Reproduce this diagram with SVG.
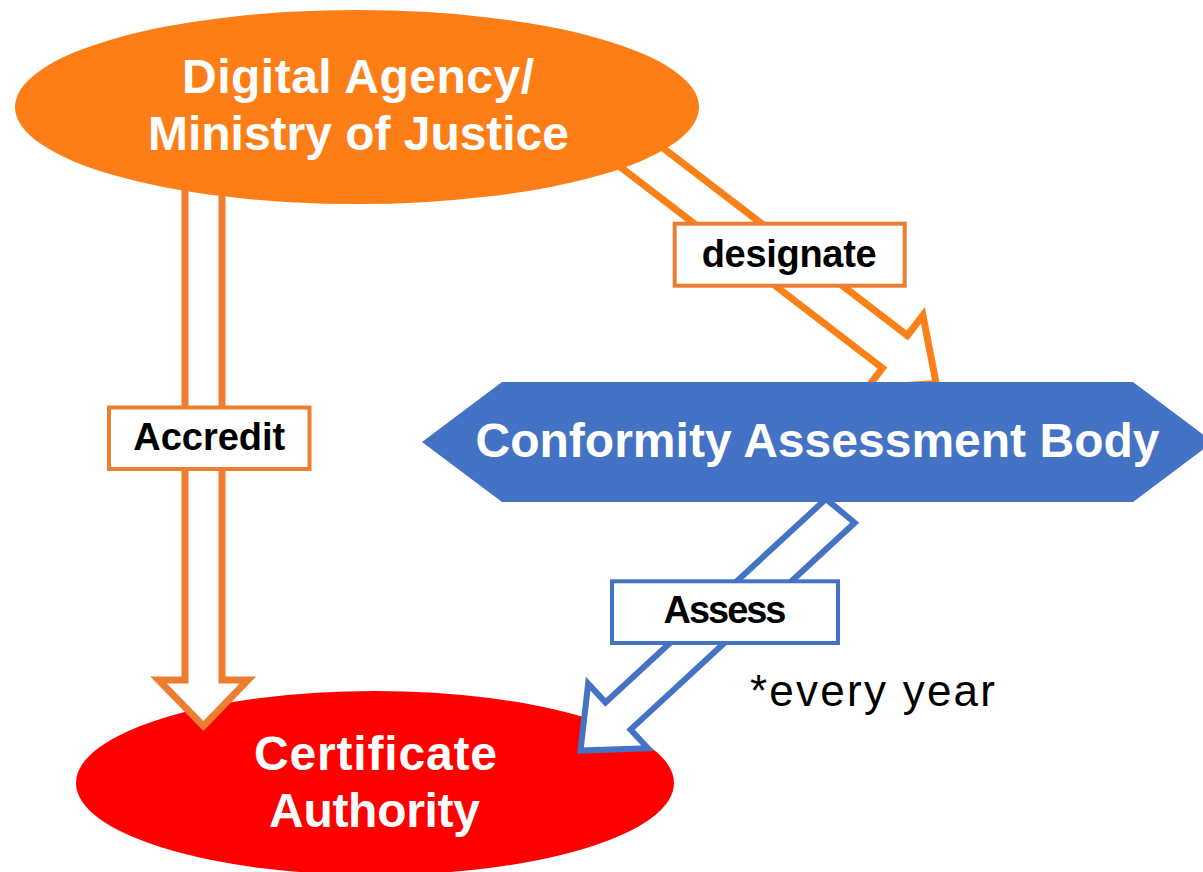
<svg xmlns="http://www.w3.org/2000/svg" width="1203" height="872" viewBox="0 0 1203 872">
  <style>
    .node-text { font-family: "Liberation Sans", Arial, sans-serif; font-weight: bold; font-size: 48px; fill: #FFFFFF; text-anchor: middle; }
    .label-text { font-family: "Liberation Sans", Arial, sans-serif; font-weight: bold; font-size: 38px; fill: #000000; text-anchor: middle; }
    .note-text { font-family: "Liberation Sans", Arial, sans-serif; font-size: 44px; fill: #000000; }
    .arrow-orange { fill: #FFFFFF; stroke: #ED7D31; stroke-width: 7; stroke-linejoin: miter; }
    .arrow-bright { fill: #FFFFFF; stroke: #FA8017; stroke-width: 7; stroke-linejoin: miter; }
    .arrow-blue { fill: #FFFFFF; stroke: #4472C4; stroke-width: 6; stroke-linejoin: miter; }
    .label-orange { fill: #FFFFFF; stroke: #ED7D31; stroke-width: 4; }
    .label-blue { fill: #FFFFFF; stroke: #4472C4; stroke-width: 4; }
  </style>
  <rect x="0" y="0" width="1203" height="872" fill="#FFFFFF"/>

  <g id="node-certificate-authority">
    <ellipse cx="375" cy="783" rx="299" ry="92" fill="#FF0000"/>
    <text class="node-text" x="375.5" y="770" textLength="243">Certificate</text>
    <text class="node-text" x="374.5" y="827" textLength="211">Authority</text>
  </g>

  <g id="connectors">
    <!-- Accredit: Digital Agency -> Certificate Authority -->
    <path id="arrow-accredit" class="arrow-orange" d="M185,170 V680 H158.5 L203.4,726 L248,680 H222 V170 Z"/>
    <!-- designate: Digital Agency -> Conformity Assessment Body -->
    <path id="arrow-designate" class="arrow-bright" transform="translate(645,160) rotate(37.5)" d="M-60,-20.5 H315 V-46 L367,0 L315,46 V20.5 H-60 Z"/>
    <!-- Assess: Conformity Assessment Body -> Certificate Authority -->
    <path id="arrow-assess" class="arrow-blue" transform="translate(618,716) rotate(137.3)" d="M-300,18.5 L0,18.5 L0,44 L51,0 L0,-44 L0,-18.5 L-305,-18.5 Z"/>

    <g id="label-accredit">
      <rect class="label-orange" x="109" y="407.5" width="200.5" height="61.5"/>
      <text class="label-text" x="209.2" y="450" textLength="152">Accredit</text>
    </g>
    <g id="label-designate">
      <rect class="label-orange" x="674.7" y="223.7" width="230" height="62"/>
      <text class="label-text" x="789.2" y="266.7" textLength="175">designate</text>
    </g>
    <g id="label-assess">
      <rect class="label-blue" x="612" y="581.3" width="226" height="61.7"/>
      <text class="label-text" x="725" y="622.7" textLength="123">Assess</text>
    </g>
  </g>

  <g id="node-digital-agency">
    <ellipse cx="357" cy="107" rx="342" ry="97" fill="#FD7E17"/>
    <text class="node-text" x="358" y="93" textLength="352">Digital Agency/</text>
    <text class="node-text" x="358.5" y="150" textLength="421">Ministry of Justice</text>
  </g>

  <g id="node-conformity-assessment-body">
    <polygon points="422,442 502,382 1133,382 1213,442 1133,502 502,502" fill="#4472C4"/>
    <text class="node-text" x="817.5" y="457.3" textLength="684">Conformity Assessment Body</text>
  </g>

  <text id="note-every-year" class="note-text" x="750" y="706" textLength="245" lengthAdjust="spacing">*every year</text>
</svg>
